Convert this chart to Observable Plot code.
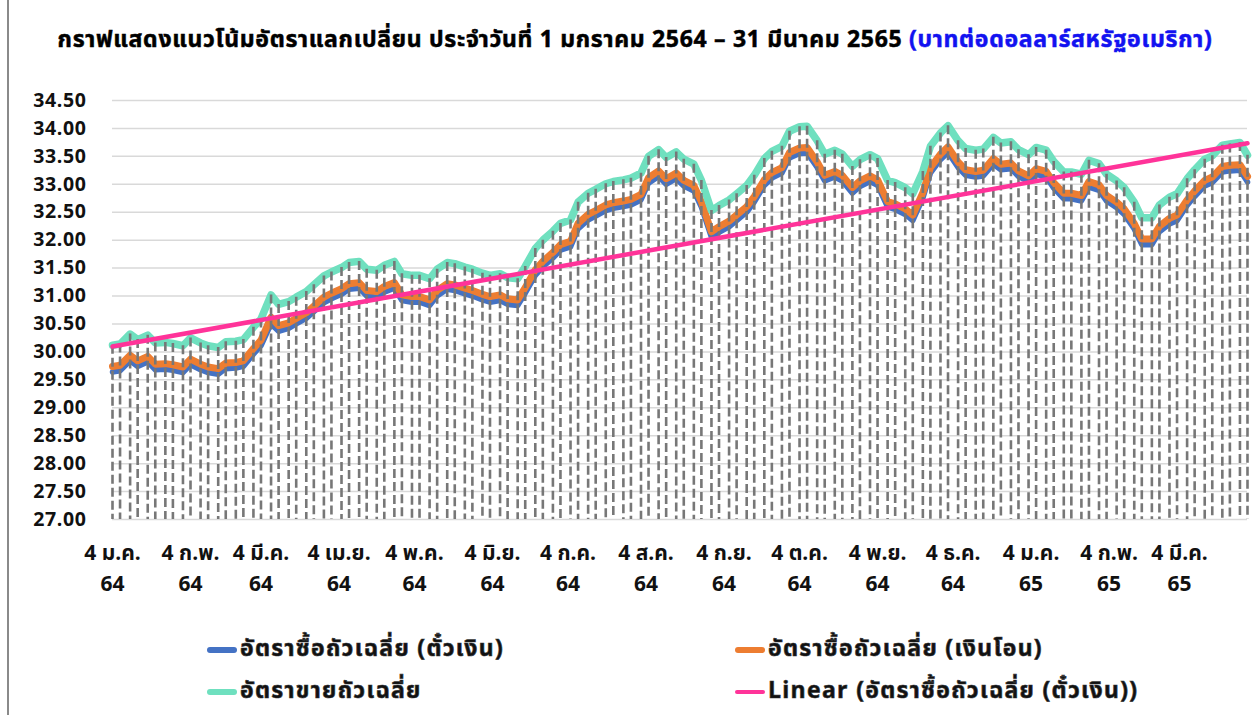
<!DOCTYPE html>
<html><head><meta charset="utf-8">
<script src="https://cdn.jsdelivr.net/npm/d3@7"></script>
<script src="https://cdn.jsdelivr.net/npm/@observablehq/plot@0.6"></script>
<style>
body{margin:0;background:#fff;}
#wrap{position:relative;width:1252px;height:715px;overflow:hidden;font-family:"Noto Sans Thai","Noto Sans",Tahoma,sans-serif;}
#frame{position:absolute;left:7px;top:0;width:2px;height:715px;background:#8a8a8a;}
#title{position:absolute;left:10px;top:24px;width:1250px;text-align:center;font-weight:bold;font-size:23px;letter-spacing:0.7px;color:#000;white-space:nowrap;line-height:32px;-webkit-text-stroke:0.5px #000;}
#title span{color:#1212f0;-webkit-text-stroke:0.5px #1212f0;}
#chart{position:absolute;left:0;top:80px;}
.sw{position:absolute;width:30px;height:6px;border-radius:3px;}
.lt{position:absolute;font-weight:bold;font-size:23px;letter-spacing:1.3px;color:#111;white-space:nowrap;line-height:30px;-webkit-text-stroke:0.6px #333;}
#chart text{paint-order:stroke;}
.yax text{letter-spacing:0.6px;}
</style></head>
<body><div id="wrap">
<div id="frame"></div>
<div id="title">กราฟแสดงแนวโน้มอัตราแลกเปลี่ยน ประจำวันที่ 1 มกราคม 2564 – 31 มีนาคม 2565 <span>(บาทต่อดอลลาร์สหรัฐอเมริกา)</span></div>
<div id="chart"></div>
<div id="legend"></div>
</div>
<script>
const dates = ["2021-01-04","2021-01-07","2021-01-11","2021-01-14","2021-01-18","2021-01-21","2021-01-25","2021-01-28","2021-02-01","2021-02-04","2021-02-08","2021-02-11","2021-02-15","2021-02-18","2021-02-22","2021-02-25","2021-03-01","2021-03-04","2021-03-08","2021-03-11","2021-03-15","2021-03-18","2021-03-22","2021-03-25","2021-03-29","2021-04-01","2021-04-05","2021-04-08","2021-04-12","2021-04-15","2021-04-19","2021-04-22","2021-04-26","2021-04-29","2021-05-03","2021-05-06","2021-05-10","2021-05-13","2021-05-17","2021-05-20","2021-05-24","2021-05-27","2021-05-31","2021-06-03","2021-06-07","2021-06-10","2021-06-14","2021-06-17","2021-06-21","2021-06-24","2021-06-28","2021-07-01","2021-07-05","2021-07-08","2021-07-12","2021-07-15","2021-07-19","2021-07-22","2021-07-26","2021-07-29","2021-08-02","2021-08-05","2021-08-09","2021-08-12","2021-08-16","2021-08-19","2021-08-23","2021-08-26","2021-08-30","2021-09-02","2021-09-06","2021-09-09","2021-09-13","2021-09-16","2021-09-20","2021-09-23","2021-09-27","2021-09-30","2021-10-04","2021-10-07","2021-10-11","2021-10-14","2021-10-18","2021-10-21","2021-10-25","2021-10-28","2021-11-01","2021-11-04","2021-11-08","2021-11-11","2021-11-15","2021-11-18","2021-11-22","2021-11-25","2021-11-29","2021-12-02","2021-12-06","2021-12-09","2021-12-13","2021-12-16","2021-12-20","2021-12-23","2021-12-27","2021-12-30","2022-01-03","2022-01-06","2022-01-10","2022-01-13","2022-01-17","2022-01-20","2022-01-24","2022-01-27","2022-01-31","2022-02-03","2022-02-07","2022-02-10","2022-02-14","2022-02-17","2022-02-21","2022-02-24","2022-02-28","2022-03-03","2022-03-07","2022-03-10","2022-03-14","2022-03-17","2022-03-21","2022-03-24","2022-03-28","2022-03-31"];

// อัตราซื้อถัวเฉลี่ย (ตั๋วเงิน)
const buyCash = [29.64,29.66,29.84,29.74,29.82,29.68,29.69,29.67,29.63,29.77,29.68,29.63,29.60,29.70,29.71,29.74,29.96,30.11,30.50,30.37,30.42,30.50,30.60,30.72,30.88,30.95,31.03,31.12,31.14,31.00,30.98,31.07,31.14,30.92,30.89,30.89,30.83,31.00,31.12,31.10,31.04,31.00,30.93,30.89,30.92,30.85,30.83,31.05,31.37,31.52,31.68,31.82,31.88,32.20,32.36,32.43,32.53,32.57,32.60,32.63,32.72,33.02,33.14,33.00,33.10,32.97,32.88,32.59,32.05,32.14,32.24,32.35,32.50,32.68,32.98,33.11,33.20,33.47,33.55,33.56,33.30,33.06,33.13,33.06,32.84,32.96,33.05,32.98,32.59,32.55,32.46,32.35,32.75,33.20,33.44,33.57,33.30,33.16,33.13,33.15,33.36,33.26,33.28,33.14,33.05,33.18,33.13,32.93,32.74,32.74,32.70,32.95,32.89,32.70,32.58,32.46,32.20,31.92,31.92,32.15,32.29,32.35,32.62,32.78,32.97,33.03,33.22,33.24,33.25,33.04];

// อัตราซื้อถัวเฉลี่ย (เงินโอน)
const buyTransfer = [29.74,29.76,29.94,29.84,29.92,29.78,29.79,29.77,29.73,29.87,29.78,29.73,29.70,29.80,29.81,29.84,30.06,30.21,30.62,30.47,30.52,30.60,30.70,30.82,30.98,31.05,31.13,31.22,31.24,31.10,31.08,31.17,31.24,31.02,30.99,30.99,30.93,31.10,31.22,31.20,31.14,31.10,31.03,30.99,31.02,30.95,30.93,31.15,31.47,31.62,31.78,31.92,31.98,32.30,32.46,32.53,32.63,32.67,32.70,32.73,32.82,33.12,33.24,33.10,33.20,33.07,32.98,32.69,32.15,32.24,32.34,32.45,32.60,32.78,33.08,33.21,33.30,33.57,33.65,33.66,33.40,33.16,33.23,33.16,32.94,33.06,33.15,33.08,32.69,32.65,32.56,32.45,32.85,33.30,33.54,33.67,33.40,33.26,33.23,33.25,33.46,33.36,33.38,33.24,33.15,33.28,33.23,33.03,32.84,32.84,32.80,33.05,32.99,32.80,32.68,32.56,32.30,32.02,32.02,32.25,32.39,32.45,32.72,32.88,33.07,33.13,33.32,33.34,33.35,33.14];

// อัตราขายถัวเฉลี่ย
const sellAvg = [30.12,30.14,30.32,30.22,30.30,30.16,30.17,30.15,30.11,30.25,30.16,30.11,30.08,30.18,30.19,30.22,30.44,30.59,31.02,30.85,30.90,30.98,31.08,31.20,31.36,31.43,31.51,31.60,31.62,31.48,31.46,31.55,31.62,31.40,31.37,31.37,31.31,31.48,31.60,31.58,31.52,31.48,31.41,31.37,31.40,31.33,31.31,31.53,31.85,32.00,32.16,32.30,32.36,32.68,32.84,32.91,33.01,33.05,33.08,33.11,33.20,33.50,33.62,33.48,33.58,33.45,33.36,33.07,32.53,32.62,32.72,32.83,32.98,33.16,33.46,33.59,33.68,33.95,34.03,34.04,33.78,33.54,33.61,33.54,33.32,33.44,33.53,33.46,33.07,33.03,32.94,32.83,33.23,33.68,33.92,34.05,33.78,33.64,33.61,33.63,33.84,33.74,33.76,33.62,33.53,33.66,33.61,33.41,33.22,33.22,33.18,33.43,33.37,33.18,33.06,32.94,32.68,32.40,32.40,32.63,32.77,32.83,33.10,33.26,33.45,33.51,33.70,33.72,33.75,33.52];

const yTicks = [27,27.5,28,28.5,29,29.5,30,30.5,31,31.5,32,32.5,33,33.5,34,34.5];
const xTickDates = ["2021-01-04","2021-02-04","2021-03-04","2021-04-04","2021-05-04","2021-06-04","2021-07-04","2021-08-04","2021-09-04","2021-10-04","2021-11-04","2021-12-04","2022-01-04","2022-02-04","2022-03-04"];
const xTickLabels = ["4 ม.ค.\n64","4 ก.พ.\n64","4 มี.ค.\n64","4 เม.ย.\n64","4 พ.ค.\n64","4 มิ.ย.\n64","4 ก.ค.\n64","4 ส.ค.\n64","4 ก.ย.\n64","4 ต.ค.\n64","4 พ.ย.\n64","4 ธ.ค.\n64","4 ม.ค.\n65","4 ก.พ.\n65","4 มี.ค.\n65"];

const seriesNames = ["อัตราซื้อถัวเฉลี่ย (ตั๋วเงิน)","อัตราซื้อถัวเฉลี่ย (เงินโอน)","อัตราขายถัวเฉลี่ย","Linear (อัตราซื้อถัวเฉลี่ย (ตั๋วเงิน))"];
const seriesColors = ["#4472C4","#ED7D31","#6FE0BF","#FF3399"];

const rows = dates.map((d,i)=>({date:new Date(d), blue:buyCash[i], orange:buyTransfer[i], green:sellAvg[i]}));
const tickDates = xTickDates.map(d=>new Date(d));
const labelByTime = new Map(tickDates.map((d,i)=>[+d, xTickLabels[i]]));

// linear trend (least squares) of the blue series
const tt = rows.map(r=>+r.date);
const mt = d3.mean(tt), mv = d3.mean(buyCash);
const slope = d3.sum(tt,(t,i)=>(t-mt)*(buyCash[i]-mv)) / d3.sum(tt,t=>(t-mt)**2);
const x0 = rows[0].date, x1 = rows[rows.length-1].date;
const trend = [x0,x1].map(d=>({date:d, v: mv + slope*(+d-mt)}));

const chart = Plot.plot({
  width:1252, height:530,
  marginLeft:112, marginRight:5, marginTop:20, marginBottom:91,
  style:{fontFamily:'"Noto Sans Thai","Noto Sans",Tahoma,sans-serif', fontWeight:"bold", color:"#111", background:"transparent"},
  x:{type:"utc", domain:[x0,x1], label:null},
  y:{domain:[27,34.5], label:null},
  marks:[
    Plot.gridY(yTicks,{stroke:"#d9d9d9", strokeOpacity:1, strokeWidth:1.5}),
    Plot.line(rows,{x:"date", y:"blue", stroke:seriesColors[0], strokeWidth:5.5, strokeLinejoin:"round"}),
    Plot.line(rows,{x:"date", y:"orange", stroke:seriesColors[1], strokeWidth:7, strokeLinejoin:"round"}),
    Plot.line(rows,{x:"date", y:"green", stroke:seriesColors[2], strokeWidth:7.5, strokeLinejoin:"round"}),
    Plot.ruleX(rows,{x:"date", y1:"green", y2:27, stroke:"#777", strokeWidth:2.6, strokeDasharray:"9,4"}),
    Plot.line(trend,{x:"date", y:"v", stroke:seriesColors[3], strokeWidth:4.5}),
    Plot.axisY(yTicks,{tickFormat:d=>d.toFixed(2), tickSize:0, tickPadding:26, fontSize:19.5, fontWeight:"bold", label:null, stroke:"#8a8a8a", strokeWidth:1.4, className:"yax"}),
    Plot.axisX(tickDates,{tickFormat:d=>labelByTime.get(+d), tickSize:0, tickPadding:19, fontSize:21, fontWeight:"bold", lineHeight:1.45, label:null, stroke:"#8a8a8a", strokeWidth:1.4})
  ]
});
document.getElementById("chart").appendChild(chart);

// legend
const leg = document.getElementById("legend");
const pos = [[207,650],[735,650],[207,692],[735,692]];
seriesNames.forEach((name,i)=>{
  const [lx,ly] = pos[i];
  const sw = document.createElement("div");
  sw.className="sw"; sw.style.left=lx+"px"; sw.style.top=(ly-3)+"px"; sw.style.background=seriesColors[i];
  if(i===3){sw.style.height="4px"; sw.style.top=(ly-2)+"px";}
  leg.appendChild(sw);
  const t = document.createElement("div");
  t.className="lt"; t.style.left=(lx+33)+"px"; t.style.top=(ly-16)+"px"; t.textContent=name;
  leg.appendChild(t);
});
</script>
</body></html>
